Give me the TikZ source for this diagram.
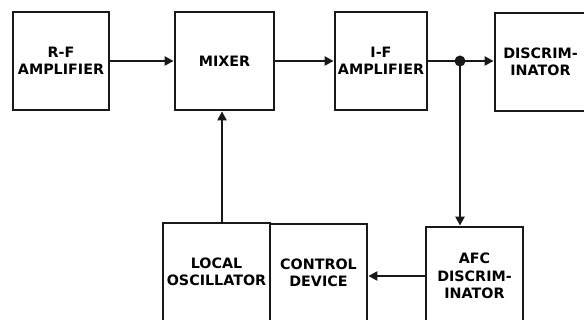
\documentclass[tikz,border=0pt]{standalone}
\usepackage{fontspec}
\setmainfont{DejaVu Sans}
\usetikzlibrary{arrows.meta}
\begin{document}
\begin{tikzpicture}[x=1pt,y=-1pt,
  blk/.style={draw=black!90, line width=2.8pt, align=center, inner sep=0pt,
    font=\bfseries\fontsize{14.3}{17.5}\selectfont},
  wire/.style={draw=black!90, line width=2.6pt},
  conn/.style={wire, -{Triangle[length=9pt,width=9pt]}}]
\fill[white] (0,0) rectangle (584,320);
\useasboundingbox (0,0) rectangle (584,320);
\clip (0,0) rectangle (584,320);
\node[blk, minimum width=96pt, minimum height=98pt] (rf) at (61,61) {R-F\\AMPLIFIER};
\node[blk, minimum width=99pt, minimum height=98pt] (mixer) at (224.5,61) {MIXER};
\node[blk, minimum width=92pt, minimum height=98pt] (if) at (381,61) {I-F\\AMPLIFIER};
\node[blk, minimum width=91pt, minimum height=98pt] (disc) at (540.5,62) {DISCRIM-\\INATOR};
\node[blk, minimum width=107pt, minimum height=98pt] (lo) at (216.5,272) {LOCAL\\OSCILLATOR};
\node[blk, minimum width=97pt, minimum height=98pt] (cd) at (318.5,273) {CONTROL\\DEVICE};
\node[blk, minimum width=97pt, minimum height=98pt] (afc) at (474.5,276) {AFC\\DISCRIM-\\INATOR};
\coordinate (j) at (460,61);
\draw[conn] (rf) -- (mixer);
\draw[conn] (mixer) -- (if);
\draw[wire] (if.east |- j) -- (j);
\draw[conn] (j) -- (disc.west |- j);
\draw[conn] (j) -- (afc.north -| j);
\fill[black!90] (j) circle (5.5pt);
\draw[conn] (afc.west) -- (cd.east |- afc.west);
\draw[conn] (lo.north -| 222,0) -- (mixer.south -| 222,0);
\end{tikzpicture}
\end{document}
